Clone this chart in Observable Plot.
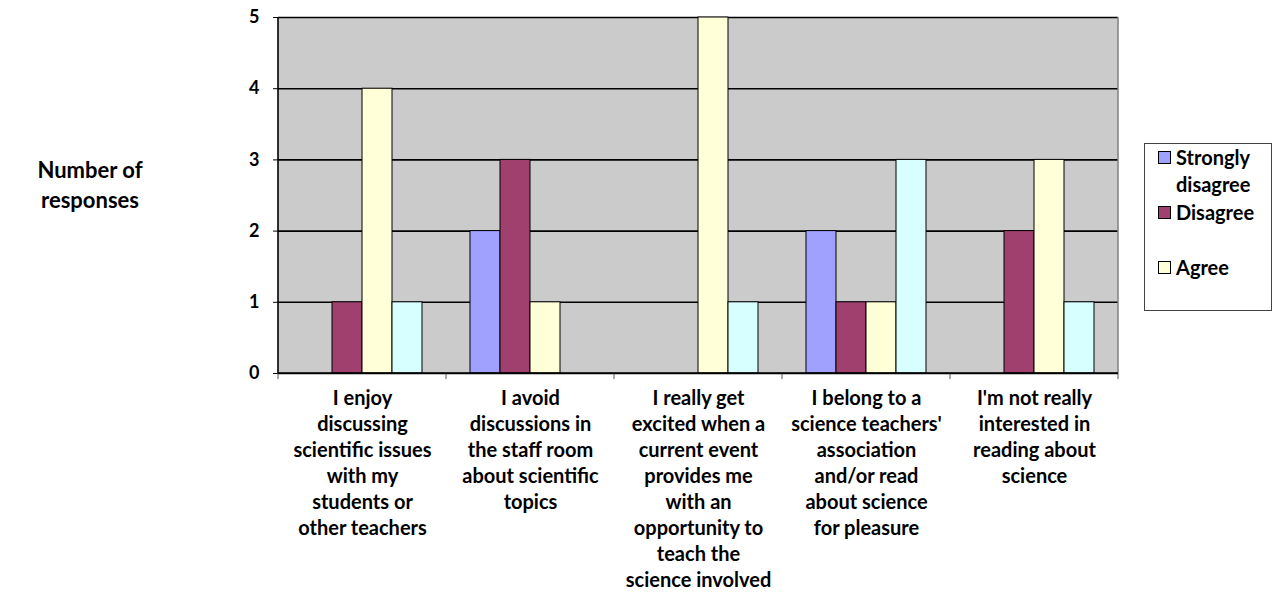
<!DOCTYPE html>
<html>
<head>
<meta charset="utf-8">
<script src="https://cdn.jsdelivr.net/npm/d3@7"></script>
<script src="https://cdn.jsdelivr.net/npm/@observablehq/plot@0.6"></script>
<style>
  html, body { margin: 0; padding: 0; background: #fff; }
  #wrap { position: relative; width: 1274px; height: 592px; overflow: hidden; font-family: Lato, "Open Sans", sans-serif; font-weight: bold; color: #000; }
  #ylab { position: absolute; left: 20px; top: 155px; width: 140px; text-align: center; font-size: 22px; line-height: 30px; }
  #legend { position: absolute; left: 1144px; top: 143px; width: 128px; height: 168px; border: 1px solid #444; box-sizing: border-box; background: #fff; }
  .li { position: absolute; left: 13px; font-size: 20px; line-height: 27px; }
  .sw { position: absolute; left: 0; top: 7px; width: 11px; height: 11px; border: 1px solid #000; }
  .lt { position: absolute; left: 18px; top: 0; white-space: nowrap; }
</style>
</head>
<body>
<div id="wrap">
  <div id="ylab">Number of<br>responses</div>
  <div id="legend"></div>
</div>
<script>
const categories = [
  "I enjoy\ndiscussing\nscientific issues\nwith my\nstudents or\nother teachers",
  "I avoid\ndiscussions in\nthe staff room\nabout scientific\ntopics",
  "I really get\nexcited when a\ncurrent event\nprovides me\nwith an\nopportunity to\nteach the\nscience involved",
  "I belong to a\nscience teachers'\nassociation\nand/or read\nabout science\nfor pleasure",
  "I'm not really\ninterested in\nreading about\nscience"
];
const series = ["Strongly disagree", "Disagree", "Agree", "Strongly agree"];
const stronglyDisagree = [0, 2, 0, 2, 0];
const disagree = [1, 3, 0, 1, 2];
const agree = [4, 1, 5, 1, 3];
const stronglyAgree = [1, 0, 1, 3, 1];
const colors = ["#A0A0FF", "#A0406E", "#FFFFD8", "#D8FFFF"];
const yTicks = [0, 1, 2, 3, 4, 5];
const legendItems = ["Strongly disagree", "Disagree", "Agree"];

const seriesValues = [stronglyDisagree, disagree, agree, stronglyAgree];
const rows = [];
categories.forEach((c, i) => series.forEach((s, j) => rows.push({category: c, series: s, value: seriesValues[j][i]})));

const plot = Plot.plot({
  width: 1274,
  height: 592,
  marginLeft: 276,
  marginRight: 154,
  marginTop: 17,
  marginBottom: 219,
  style: {fontFamily: "Lato, 'Open Sans', sans-serif", background: "transparent", overflow: "visible"},
  fx: {domain: categories, padding: 0, label: null},
  x: {domain: series, paddingInner: 0, paddingOuter: 0.77, axis: null},
  y: {domain: [0, 5], label: null},
  color: {domain: series, range: colors},
  marks: [
    Plot.gridY(yTicks, {stroke: "#000", strokeOpacity: 1, strokeWidth: 1.6}),
    Plot.barY(rows.filter(d => d.value > 0), {fx: "category", x: "series", y: "value", fill: "series", stroke: "#000", strokeWidth: 1}),
    Plot.axisY({ticks: yTicks, tickSize: 5, tickPadding: 14, fontSize: 18, fontWeight: "bold", tickFormat: d3.format("d"), stroke: "#000", fill: "#000"}),
    Plot.axisFx({anchor: "bottom", tickSize: 0, tickPadding: 13, fontSize: 20, fontWeight: "bold", lineHeight: 1.3, fill: "#000", label: null})
  ]
});

const wrap = document.getElementById("wrap");
plot.style.position = "absolute";
plot.style.left = "0px";
plot.style.top = "0px";
wrap.insertBefore(plot, wrap.firstChild);

// background, frame lines and group boundary ticks using the fx and y scales
const fx = plot.scale("fx");
const y = plot.scale("y");
const yTop = y.apply(5), yBot = y.apply(0);
const bounds = categories.map(c => fx.apply(c));
bounds.push(fx.apply(categories[categories.length - 1]) + fx.bandwidth);
const xL = bounds[0], xR = bounds[bounds.length - 1];
const svg = d3.select(plot);
svg.insert("rect", ":first-child")
  .attr("x", xL).attr("y", yTop).attr("width", xR - xL).attr("height", yBot - yTop)
  .attr("fill", "#CBCBCB");
const g = svg.append("g");
g.selectAll("line.b").data(bounds).join("line")
  .attr("x1", d => d).attr("x2", d => d)
  .attr("y1", yBot).attr("y2", yBot + 6)
  .attr("stroke", "#555").attr("stroke-width", 1);
g.append("line").attr("x1", xR).attr("x2", xR)
  .attr("y1", yTop).attr("y2", yBot).attr("stroke", "#808080").attr("stroke-width", 1.5);
g.append("line").attr("x1", xL).attr("x2", xL)
  .attr("y1", yTop).attr("y2", yBot).attr("stroke", "#000").attr("stroke-width", 1.6);
g.append("line").attr("x1", xL).attr("x2", xR)
  .attr("y1", yBot).attr("y2", yBot).attr("stroke", "#000").attr("stroke-width", 1.6);

// legend
const legend = document.getElementById("legend");
const tops = [0, 55, 110];
legendItems.forEach((name, i) => {
  const item = document.createElement("div");
  item.className = "li";
  item.style.top = tops[i] + "px";
  const sw = document.createElement("div");
  sw.className = "sw";
  sw.style.background = colors[series.indexOf(name)];
  const t = document.createElement("div");
  t.className = "lt";
  t.innerHTML = name === "Strongly disagree" ? "Strongly<br>disagree" : name;
  item.appendChild(sw);
  item.appendChild(t);
  legend.appendChild(item);
});
</script>
</body>
</html>
